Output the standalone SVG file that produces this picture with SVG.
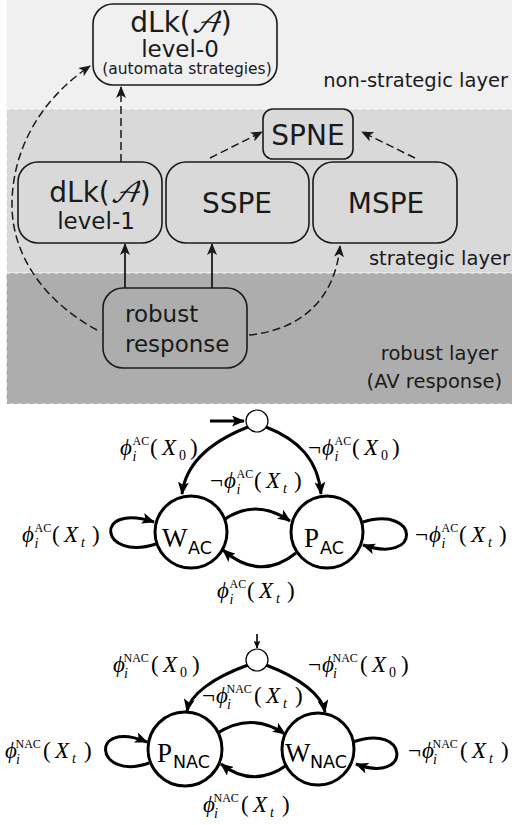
<svg xmlns="http://www.w3.org/2000/svg" width="512" height="825" viewBox="0 0 512 825">
<defs>
<style>
.layer{stroke:#ffffff;stroke-width:1;stroke-dasharray:4 4}
.box{fill:none;stroke:#1a1a1a;stroke-width:1.6}
.bt{font-family:"DejaVu Sans","Verdana",sans-serif;fill:#1a1a1a}
.cal{font-family:"DejaVu Math TeX Gyre","Noto Sans Math","DejaVu Serif",serif;font-style:italic}
.lay{font-family:"DejaVu Sans",sans-serif;font-size:19.5px;fill:#1a1a1a;text-anchor:end}
.dash{fill:none;stroke:#1a1a1a;stroke-width:1.5;stroke-dasharray:8 4}
.solid{fill:none;stroke:#1a1a1a;stroke-width:1.8}
.st{fill:#fff;stroke:#000;stroke-width:3}
.init{fill:#fff;stroke:#000;stroke-width:1.2}
.e{fill:none;stroke:#000;stroke-width:3}
.m{font-family:"Liberation Serif","DejaVu Serif",serif;font-size:23px;fill:#000}
.it{font-style:italic}
.sc{font-size:12px}
.ss{font-size:14px}
.sn{font-family:"Liberation Serif","DejaVu Serif",serif;font-size:27px;fill:#000}
.sub{font-family:"DejaVu Sans",sans-serif;font-size:17.5px;fill:#000}
</style>
<marker id="ah" viewBox="0 0 12 10" refX="11" refY="5" markerWidth="12" markerHeight="10" orient="auto" markerUnits="userSpaceOnUse"><path d="M0,0 L12,5 L0,10 L3,5 z" fill="#1a1a1a"/></marker>
<marker id="ah2" viewBox="0 0 13 11" refX="12" refY="5.5" markerWidth="13" markerHeight="11" orient="auto" markerUnits="userSpaceOnUse"><path d="M0,0 L13,5.5 L0,11 L3,5.5 z" fill="#000"/></marker>
<marker id="ah3" viewBox="0 0 8 7" refX="7.5" refY="3.5" markerWidth="8" markerHeight="7" orient="auto" markerUnits="userSpaceOnUse"><path d="M0,0 L8,3.5 L0,7 L2,3.5 z" fill="#000"/></marker>
</defs>
<rect width="512" height="825" fill="#ffffff"/>
<g id="layers">
<rect class="layer" x="6.5" y="-2" width="510" height="111" fill="#f0f0f0"/>
<rect class="layer" x="6.5" y="109" width="510" height="164" fill="#d9d9d9"/>
<rect class="layer" x="6.5" y="273" width="510" height="131" fill="#adadad"/>
<text class="lay" x="508" y="87">non-strategic layer</text>
<text class="lay" x="510" y="265">strategic layer</text>
<text class="lay" x="498" y="360">robust layer</text>
<text class="lay" x="502" y="388">(AV response)</text>
</g>
<g id="connectors">
<path class="dash" d="M121,162 L121,87" marker-end="url(#ah)"/>
<path class="dash" d="M210,158 L262,132" marker-end="url(#ah)"/>
<path class="dash" d="M415,158 L362,132" marker-end="url(#ah)"/>
<path class="solid" d="M125,288 L125,244" marker-end="url(#ah)"/>
<path class="solid" d="M212,288 L212,244" marker-end="url(#ah)"/>
<path class="dash" d="M249,335 C300,330 335,300 340,246" marker-end="url(#ah)"/>
<path class="dash" d="M97,330 C50,305 12,260 12,205 C12,150 40,100 90,66" marker-end="url(#ah)"/>
</g>
<g id="level0">
<rect class="box" x="93" y="4" width="184" height="81" rx="20"/>
<text class="bt" x="181" y="32" font-size="28" text-anchor="middle">dLk(<tspan class="cal">𝒜</tspan>)</text>
<text class="bt" x="180" y="57" font-size="23" text-anchor="middle">level-0</text>
<text class="bt" x="187" y="74" font-size="15.5" text-anchor="middle">(automata strategies)</text>
</g>
<g id="level1">
<rect class="box" x="18" y="162" width="144" height="81" rx="20"/>
<text class="bt" x="100" y="202" font-size="28" text-anchor="middle">dLk(<tspan class="cal">𝒜</tspan>)</text>
<text class="bt" x="96" y="229" font-size="23" text-anchor="middle">level-1</text>
</g>
<g id="sspe">
<rect class="box" x="166" y="162" width="143" height="81" rx="20"/>
<text class="bt" x="237" y="213" font-size="28" text-anchor="middle">SSPE</text>
</g>
<g id="mspe">
<rect class="box" x="313" y="162" width="144" height="81" rx="20"/>
<text class="bt" x="386" y="213" font-size="28" text-anchor="middle">MSPE</text>
</g>
<g id="spne">
<rect class="box" x="263" y="109" width="90" height="50" rx="10" stroke-width="1.2"/>
<text class="bt" x="308" y="145" font-size="28" text-anchor="middle">SPNE</text>
</g>
<g id="robust">
<rect class="box" x="103" y="288" width="144" height="80" rx="20"/>
<text class="bt" x="125" y="322" font-size="23">robust</text>
<text class="bt" x="125" y="352" font-size="23">response</text>
</g>
<g id="ac-edges">
<path class="e" d="M210,421 L244,421" marker-end="url(#ah2)"/>
<path class="e" d="M248,427 C215,440 186,460 182,494" marker-end="url(#ah2)"/>
<path class="e" d="M266,427 C299,440 318,460 321,494" marker-end="url(#ah2)"/>
<path class="e" d="M222,521 Q255,497 290,521" marker-end="url(#ah2)"/>
<path class="e" d="M296,553 Q260,582 223,550" marker-end="url(#ah2)"/>
<path class="e" d="M156,544 C100,562 92,502 154,522" marker-end="url(#ah2)"/>
<path class="e" d="M363,522 C420,505 422,565 363,545" marker-end="url(#ah2)"/>
<text class="m"><tspan class="it" x="120" y="455">ϕ</tspan><tspan class="sc" x="132.5" y="445">AC</tspan><tspan class="it ss" x="132.5" y="461">i</tspan><tspan x="150" y="455">(</tspan><tspan class="it" x="162" y="455">X</tspan><tspan class="ss" x="179" y="460">0</tspan><tspan x="190" y="455">)</tspan></text>
<text class="m"><tspan x="308" y="455">¬</tspan><tspan class="it" x="322" y="455">ϕ</tspan><tspan class="sc" x="334.5" y="445">AC</tspan><tspan class="it ss" x="334.5" y="461">i</tspan><tspan x="352" y="455">(</tspan><tspan class="it" x="364" y="455">X</tspan><tspan class="ss" x="381" y="460">0</tspan><tspan x="392" y="455">)</tspan></text>
<text class="m"><tspan x="210" y="488">¬</tspan><tspan class="it" x="224" y="488">ϕ</tspan><tspan class="sc" x="236.5" y="478">AC</tspan><tspan class="it ss" x="236.5" y="494">i</tspan><tspan x="254" y="488">(</tspan><tspan class="it" x="266" y="488">X</tspan><tspan class="it ss" x="283" y="493">t</tspan><tspan x="294" y="488">)</tspan></text>
<text class="m"><tspan class="it" x="22" y="542">ϕ</tspan><tspan class="sc" x="34.5" y="532">AC</tspan><tspan class="it ss" x="34.5" y="548">i</tspan><tspan x="52" y="542">(</tspan><tspan class="it" x="64" y="542">X</tspan><tspan class="it ss" x="81" y="547">t</tspan><tspan x="92" y="542">)</tspan></text>
<text class="m"><tspan x="415" y="542">¬</tspan><tspan class="it" x="429" y="542">ϕ</tspan><tspan class="sc" x="441.5" y="532">AC</tspan><tspan class="it ss" x="441.5" y="548">i</tspan><tspan x="459" y="542">(</tspan><tspan class="it" x="471" y="542">X</tspan><tspan class="it ss" x="488" y="547">t</tspan><tspan x="499" y="542">)</tspan></text>
<text class="m"><tspan class="it" x="217" y="598">ϕ</tspan><tspan class="sc" x="229.5" y="588">AC</tspan><tspan class="it ss" x="229.5" y="604">i</tspan><tspan x="247" y="598">(</tspan><tspan class="it" x="259" y="598">X</tspan><tspan class="it ss" x="276" y="603">t</tspan><tspan x="287" y="598">)</tspan></text>
</g>
<g id="ac-init"><circle class="init" cx="257" cy="421" r="11"/></g>
<g id="w-ac">
<circle class="st" cx="191" cy="532" r="36"/>
<text class="sn" x="162" y="547">W</text><text class="sub" x="188" y="554">AC</text>
</g>
<g id="p-ac">
<circle class="st" cx="327" cy="532" r="36"/>
<text class="sn" x="304" y="547">P</text><text class="sub" x="320" y="554">AC</text>
</g>
<g id="nac-edges">
<path d="M257,634 L257,648" fill="none" stroke="#000" stroke-width="1.6" marker-end="url(#ah3)"/>
<path class="e" d="M248,665 C212,678 190,695 187,711" marker-end="url(#ah2)"/>
<path class="e" d="M266,665 C300,678 322,695 325,712" marker-end="url(#ah2)"/>
<path class="e" d="M216,734 Q251,711 285,734" marker-end="url(#ah2)"/>
<path class="e" d="M287,765 Q253,789 221,764" marker-end="url(#ah2)"/>
<path class="e" d="M149,763 C95,782 88,718 147,742" marker-end="url(#ah2)"/>
<path class="e" d="M353,742 C410,722 412,785 356,764" marker-end="url(#ah2)"/>
<text class="m"><tspan class="it" x="113" y="672">ϕ</tspan><tspan class="sc" x="123.5" y="662">NAC</tspan><tspan class="it ss" x="124" y="678">i</tspan><tspan x="151" y="672">(</tspan><tspan class="it" x="163" y="672">X</tspan><tspan class="ss" x="180" y="677">0</tspan><tspan x="192" y="672">)</tspan></text>
<text class="m"><tspan x="308" y="672">¬</tspan><tspan class="it" x="322" y="672">ϕ</tspan><tspan class="sc" x="332.5" y="662">NAC</tspan><tspan class="it ss" x="333" y="678">i</tspan><tspan x="360" y="672">(</tspan><tspan class="it" x="372" y="672">X</tspan><tspan class="ss" x="389" y="677">0</tspan><tspan x="401" y="672">)</tspan></text>
<text class="m"><tspan x="202" y="703">¬</tspan><tspan class="it" x="216" y="703">ϕ</tspan><tspan class="sc" x="226.5" y="693">NAC</tspan><tspan class="it ss" x="227" y="709">i</tspan><tspan x="254" y="703">(</tspan><tspan class="it" x="266" y="703">X</tspan><tspan class="it ss" x="283" y="708">t</tspan><tspan x="295" y="703">)</tspan></text>
<text class="m"><tspan class="it" x="5" y="758">ϕ</tspan><tspan class="sc" x="15.5" y="748">NAC</tspan><tspan class="it ss" x="16" y="764">i</tspan><tspan x="43" y="758">(</tspan><tspan class="it" x="55" y="758">X</tspan><tspan class="it ss" x="72" y="763">t</tspan><tspan x="84" y="758">)</tspan></text>
<text class="m"><tspan x="408" y="758">¬</tspan><tspan class="it" x="422" y="758">ϕ</tspan><tspan class="sc" x="432.5" y="748">NAC</tspan><tspan class="it ss" x="433" y="764">i</tspan><tspan x="460" y="758">(</tspan><tspan class="it" x="472" y="758">X</tspan><tspan class="it ss" x="489" y="763">t</tspan><tspan x="501" y="758">)</tspan></text>
<text class="m"><tspan class="it" x="203" y="812">ϕ</tspan><tspan class="sc" x="213.5" y="802">NAC</tspan><tspan class="it ss" x="214" y="818">i</tspan><tspan x="241" y="812">(</tspan><tspan class="it" x="253" y="812">X</tspan><tspan class="it ss" x="270" y="817">t</tspan><tspan x="282" y="812">)</tspan></text>
</g>
<g id="nac-init"><circle class="init" cx="257" cy="660" r="11"/></g>
<g id="p-nac">
<circle class="st" cx="185" cy="749" r="37"/>
<text class="sn" x="157" y="762">P</text><text class="sub" x="173" y="768">NAC</text>
</g>
<g id="w-nac">
<circle class="st" cx="318" cy="749" r="36"/>
<text class="sn" x="285" y="762">W</text><text class="sub" x="310" y="768">NAC</text>
</g>
</svg>
